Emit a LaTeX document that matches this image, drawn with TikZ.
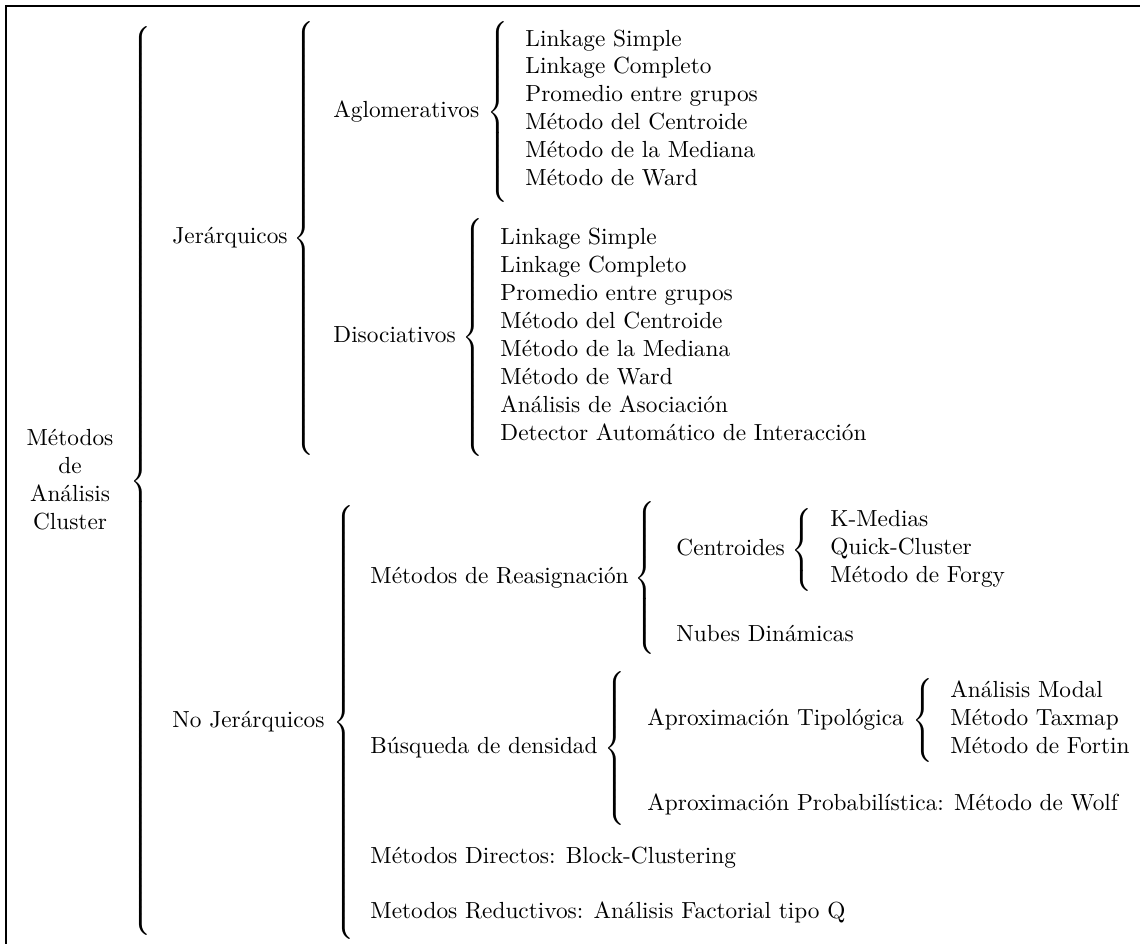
\documentclass[tikz,border=0pt]{standalone}
\usepackage{fontspec}
\newcommand\cbrace[1]{$\delimitershortfall=0pt\delimiterfactor=1000\left\{\vcenter{\hbox{\rule{0pt}{#1}}}\right.$}
\begin{document}
\begin{tikzpicture}[x=0.4292pt,y=-0.4292pt,
  lbl/.style={anchor=mid west,inner sep=0pt},
  brc/.style={anchor=west,inner sep=0pt},
  framestyle/.style={line width=1.2pt}]
\useasboundingbox (0,0) rectangle (1140,944);
\coordinate (fb) at (6,944);
\coordinate (fc) at (6,6);
\coordinate (fr) at (1140,6);
\draw[framestyle] (fb) -- (fc) -- (fr);

% root
\node[align=center,inner sep=0pt] (root) at (70,479.5) {Métodos\\de\\Análisis\\Cluster};
\node[brc] (b1) at (130,481) {\cbrace{389.7pt}};

% Jerarquicos
\node[lbl] (jer) at (172,238.5) {Jerárquicos};
\node[brc] (b2) at (293,238.5) {\cbrace{181.5pt}};

\node[lbl] (agl) at (333,112) {Aglomerativos};
\node[brc] (b3) at (487,112) {\cbrace{73.0pt}};
\foreach \t [count=\i] in {Linkage Simple,Linkage Completo,Promedio entre grupos,Método del Centroide,Método de la Mediana,Método de Ward}
  \node[lbl] (a\i) at (525,{41+27.9*(\i-1)}) {\t};

\node[lbl] (dis) at (333,337.5) {Disociativos};
\node[brc] (b4) at (462,337.5) {\cbrace{96.6pt}};
\foreach \t [count=\i] in {Linkage Simple,Linkage Completo,Promedio entre grupos,Método del Centroide,Método de la Mediana,Método de Ward,Análisis de Asociación,Detector Automático de Interacción}
  \node[lbl] (d\i) at (500,{239+28*(\i-1)}) {\t};

% No Jerarquicos
\node[lbl] (nojer) at (172,722.5) {No Jerárquicos};
\node[brc] (b5) at (333,722.5) {\cbrace{182.4pt}};

\node[lbl] (reas) at (370,578) {Métodos de Reasignación};
\node[brc] (b6) at (634,578) {\cbrace{60.1pt}};
\node[lbl] (cent) at (676,550) {Centroides};
\node[brc] (b7) at (791,550) {\cbrace{34.3pt}};
\foreach \t [count=\i] in {K-Medias,Quick-Cluster,Método de Forgy}
  \node[lbl] (c\i) at (830,{521+28*(\i-1)}) {\t};
\node[lbl] (nub) at (676,636) {Nubes Dinámicas};

\node[lbl] (bus) at (370,748.5) {Búsqueda de densidad};
\node[brc] (b8) at (604,748.5) {\cbrace{61.4pt}};
\node[lbl] (tip) at (647,720.5) {Aproximación Tipológica};
\node[brc] (b9) at (912,720.5) {\cbrace{35.6pt}};
\foreach \t [count=\i] in {Análisis Modal,Método Taxmap,Método de Fortin}
  \node[lbl] (t\i) at (950,{692+28*(\i-1)}) {\t};
\node[lbl] (wolf) at (647,805) {Aproximación Probabilística: Método de Wolf};

\node[lbl] (dir) at (370,858) {Métodos Directos: Block-Clustering};
\node[lbl] (red) at (370,913) {Metodos Reductivos: Análisis Factorial tipo Q};
\end{tikzpicture}
\end{document}
